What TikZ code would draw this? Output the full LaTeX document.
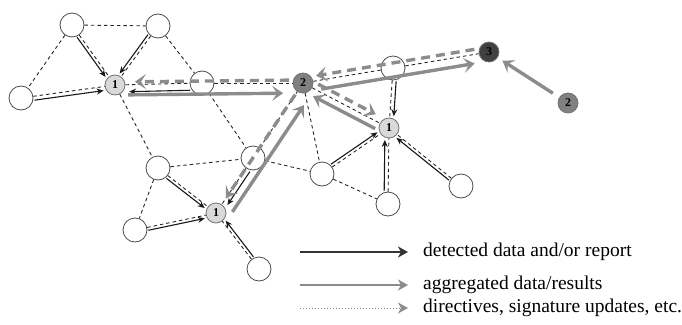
\documentclass[tikz,border=0pt]{standalone}
\usepackage{fontspec}
\setmainfont{Liberation Serif}
\usetikzlibrary{calc,arrows.meta}

% connector from #2 to #3, starting #4 from #2, ending #5 from #3, shifted sideways by #6
\newcommand\linkarrow[6][]{%
  \draw[#1] ($(#2)!#4!(#3)!#6!90:(#3)$) -- ($(#3)!#5!(#2)!#6!-90:(#2)$);}

\definecolor{aggrgray}{RGB}{140,140,140}

\tikzset{
  plain/.style={circle, draw=black!70, fill=white, minimum size=24pt, inner sep=0pt, line width=0.8pt},
  head/.style={circle, draw=black!55, minimum size=20pt, inner sep=0pt, line width=0.8pt,
    font=\bfseries\fontsize{12}{12}\selectfont},
  lvlone/.style={head, fill=black!15},
  lvltwo/.style={head, fill=black!50},
  lvlthree/.style={head, fill=black!75},
  topo/.style={draw=black!85, line width=0.9pt, dash pattern=on 3.5pt off 3pt},
  report/.style={draw=black!90, line width=1.1pt, -{Stealth[length=7pt,width=6pt]}},
  aggr/.style={draw=aggrgray, line width=3.4pt, -{Stealth[length=11pt,width=15pt,inset=5pt]}},
  direc/.style={draw=aggrgray, line width=3.4pt, dash pattern=on 9pt off 6pt,
    -{Stealth[length=11pt,width=15pt,inset=5pt]}},
  legreport/.style={draw=black!80, line width=1.8pt, -{Stealth[length=10pt,width=11pt,inset=3pt]}},
  legaggr/.style={draw=aggrgray, line width=1.8pt, -{Stealth[length=10pt,width=11pt,inset=3pt]}},
  legdirec/.style={draw=aggrgray, line width=1pt, dotted, -{Stealth[length=10pt,width=11pt,inset=3pt]}},
  legtext/.style={anchor=west, inner sep=0pt, font=\fontsize{19.5}{22}\selectfont}
}

\begin{document}
\begin{tikzpicture}[x=1pt,y=-1pt]
\useasboundingbox (0,0) rectangle (682,324);

% sensor nodes
\node[plain] (A) at (72,25) {};
\node[plain] (B) at (158,26) {};
\node[plain] (L) at (21,98) {};
\node[plain] (C) at (202,83) {};
\node[plain] (D) at (158,168) {};
\node[plain] (E) at (253,158) {};
\node[plain] (F) at (393,68) {};
\node[plain] (G) at (322,174) {};
\node[plain] (K) at (388,204) {};
\node[plain] (M) at (461,186) {};
\node[plain] (I) at (135,230) {};
\node[plain] (J) at (259,269) {};

% cluster heads by level
\node[lvlone] (ha) at (115,85) {1};
\node[lvlone] (hb) at (389,128) {1};
\node[lvlone] (hc) at (216,213) {1};
\node[lvltwo] (ma) at (303,83) {2};
\node[lvltwo] (mb) at (568,103) {2};
\node[lvlthree] (top) at (489,52) {3};

% radio links
\foreach \u/\v in {A/B, A/L, A/ha, B/ha, B/C, L/ha, ha/C, ha/D, C/ma, C/E, D/E, D/I, D/hc,
  I/hc, J/hc, E/hc, E/ma, E/G, ma/G, G/hb, G/K, K/hb, M/hb, F/hb, ma/F, F/top, ma/hb}
  \draw[topo] (\u) -- (\v);

% detected data towards level-1 heads
\linkarrow[report]{A}{ha}{13pt}{12pt}{-3pt}
\linkarrow[report]{B}{ha}{13pt}{12pt}{-3pt}
\linkarrow[report]{L}{ha}{13pt}{12pt}{-4pt}
\linkarrow[report]{C}{ha}{12pt}{14pt}{7pt}
\linkarrow[report]{F}{hb}{13pt}{12pt}{4pt}
\linkarrow[report]{G}{hb}{13pt}{12pt}{3pt}
\linkarrow[report]{K}{hb}{13pt}{12pt}{4pt}
\linkarrow[report]{M}{hb}{13pt}{12pt}{3pt}
\linkarrow[report]{D}{hc}{13pt}{12pt}{-3pt}
\linkarrow[report]{I}{hc}{13pt}{12pt}{-3pt}
\linkarrow[report]{J}{hc}{13pt}{12pt}{-3pt}
\linkarrow[report]{E}{hc}{13pt}{13pt}{5pt}

% aggregated results upwards
\linkarrow[aggr]{ha}{ma}{13pt}{20pt}{-10pt}
\linkarrow[aggr]{hc}{ma}{10pt}{18pt}{-13pt}
\linkarrow[aggr]{hb}{ma}{12pt}{15pt}{7pt}
\linkarrow[aggr]{ma}{top}{17pt}{16pt}{-9pt}
\linkarrow[aggr]{mb}{top}{18pt}{16pt}{0pt}

% directives downwards
\linkarrow[direc]{ma}{ha}{14pt}{20pt}{-3pt}
\linkarrow[direc]{ma}{hc}{14pt}{18pt}{0pt}
\linkarrow[direc]{ma}{hb}{14pt}{18pt}{6pt}
\linkarrow[direc]{top}{ma}{14pt}{14pt}{-5pt}

% legend
\coordinate (la1) at (300,252); \coordinate (lb1) at (408,252);
\coordinate (la2) at (300,285); \coordinate (lb2) at (408,285);
\coordinate (la3) at (300,308); \coordinate (lb3) at (408,308);
\draw[legreport] (la1) -- (lb1);
\draw[legaggr] (la2) -- (lb2);
\draw[legdirec] (la3) -- (lb3);
\node[legtext] (t1) at (423,252) {detected data and/or report};
\node[legtext] (t2) at (423,285) {aggregated data/results};
\node[legtext] (t3) at (423,308) {directives, signature updates, etc.};
\end{tikzpicture}
\end{document}
